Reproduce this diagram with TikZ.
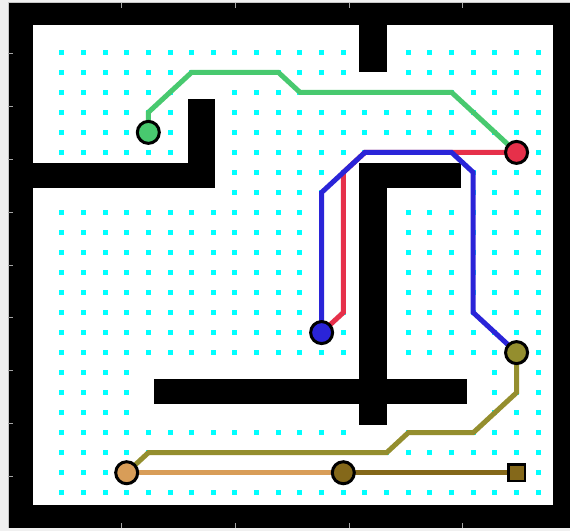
\documentclass[tikz,border=0pt]{standalone}
\pgfdeclarelayer{walls}
\pgfdeclarelayer{paths}
\pgfsetlayers{walls,paths,main}
\definecolor{cgreen}{RGB}{72,201,111}
\definecolor{cred}{RGB}{230,48,74}
\definecolor{cblue}{RGB}{42,36,216}
\definecolor{colive}{RGB}{148,142,46}
\definecolor{ctan}{RGB}{216,157,88}
\definecolor{cbrown}{RGB}{132,104,26}
\definecolor{cdot}{RGB}{0,255,255}
\definecolor{cbg}{RGB}{240,240,240}
\tikzset{
  wallfill/.style={fill=black},
  tickln/.style={draw=gray!70, line width=0.8pt},
  pathln/.style={line width=5pt, line join=miter},
  endcirc/.style={circle, draw=black, line width=3pt, minimum size=22pt, inner sep=0pt},
  endsq/.style={rectangle, draw=black, line width=2.5pt, minimum size=16.5pt, inner sep=0pt}
}
\begin{document}
\begin{tikzpicture}[x=1pt,y=-1pt]
\useasboundingbox (0,0) rectangle (570,531);
\begin{pgfonlayer}{walls}
  \fill[cbg] (0,0) rectangle (570,531);
  % outer frame
  \fill[wallfill] (8.3,2.7) rectangle (570,528);
  \draw[gray!45, line width=0.6pt] (8.3,528) -- (8.3,2.7) -- (570,2.7);
  \fill[white] (33.3,25) rectangle (553,505);
  % ticks
  \foreach \tx in {121.7,235,349,462.5}{
    \draw[tickln] (\tx,2.7) -- (\tx,7.5);
    \draw[tickln] (\tx,528) -- (\tx,523.2);
  }
  \foreach \ty in {53.3,106.2,159.1,212,264.9,317.8,370.7,423.6,476.5}{
    \draw[tickln] (8.3,\ty) -- (13.1,\ty);
  }
  % inner walls
  \fill[wallfill] (359,25) rectangle (386.7,71.7);
  \fill[wallfill] (188.3,99.3) rectangle (215,188.3);
  \fill[wallfill] (33.3,163.3) rectangle (215,188.3);
  \fill[wallfill] (359,163.3) rectangle (460.7,188.3);
  \fill[wallfill] (359,163.3) rectangle (386.7,425);
  \fill[wallfill] (154,379.3) rectangle (466.7,404.3);
\end{pgfonlayer}
\begin{scope}[shift={(61.7pt,-52.3pt)}, x=21.66pt, y=-20.02pt]
  \begin{pgfonlayer}{walls}
    \foreach \i in {0,...,22}{
      \foreach \j in {0,...,22}{
        \pgfmathtruncatemacro\w{(\i>=14)*(\i<=15)*(\j<=1) + (\i>=6)*(\i<=7)*(\j>=2)*(\j<=7) + (\i<=7)*(\j>=6)*(\j<=7) + (\i>=14)*(\i<=18)*(\j>=6)*(\j<=7) + (\i>=14)*(\i<=15)*(\j>=6)*(\j<=19) + (\i>=4)*(\i<=19)*(\j>=16)*(\j<=18)}
        \ifnum\w=0 \fill[cdot] (\i,\j) ++(-2.5pt,-2.5pt) rectangle ++(5pt,5pt);\fi
      }
    }
  \end{pgfonlayer}
  % end points
  \node[endcirc, fill=cgreen] (g) at (4,4) {};
  \node[endcirc, fill=cred] (r) at (21,5) {};
  \node[endcirc, fill=cblue] (b) at (12,14) {};
  \node[endcirc, fill=colive] (o) at (21,15) {};
  \node[endcirc, fill=ctan] (t) at (3,21) {};
  \node[endcirc, fill=cbrown] (m) at (13,21) {};
  \node[endsq, fill=cbrown] (s) at (21,21) {};
  \begin{pgfonlayer}{paths}
    \draw[pathln, cgreen] (g.center) -- (4,3) -- (6,1) -- (10,1) -- (11,2) -- (18,2) -- (r.center);
    \draw[pathln, cred] (r.center) -- (18,5) -- (14,5) -- (13,6) -- (13,13) -- (b.center);
    \draw[pathln, cblue] (b.center) -- (12,7) -- (14,5) -- (18,5) -- (19,6) -- (19,13) -- (o.center);
    \draw[pathln, colive] (o.center) -- (21,17) -- (19,19) -- (16,19) -- (15,20) -- (4,20) -- (t.center);
    \draw[pathln, ctan] (t.center) -- (m.center);
    \draw[pathln, cbrown] (m.center) -- (s.center);
  \end{pgfonlayer}
\end{scope}
\end{tikzpicture}
\end{document}
